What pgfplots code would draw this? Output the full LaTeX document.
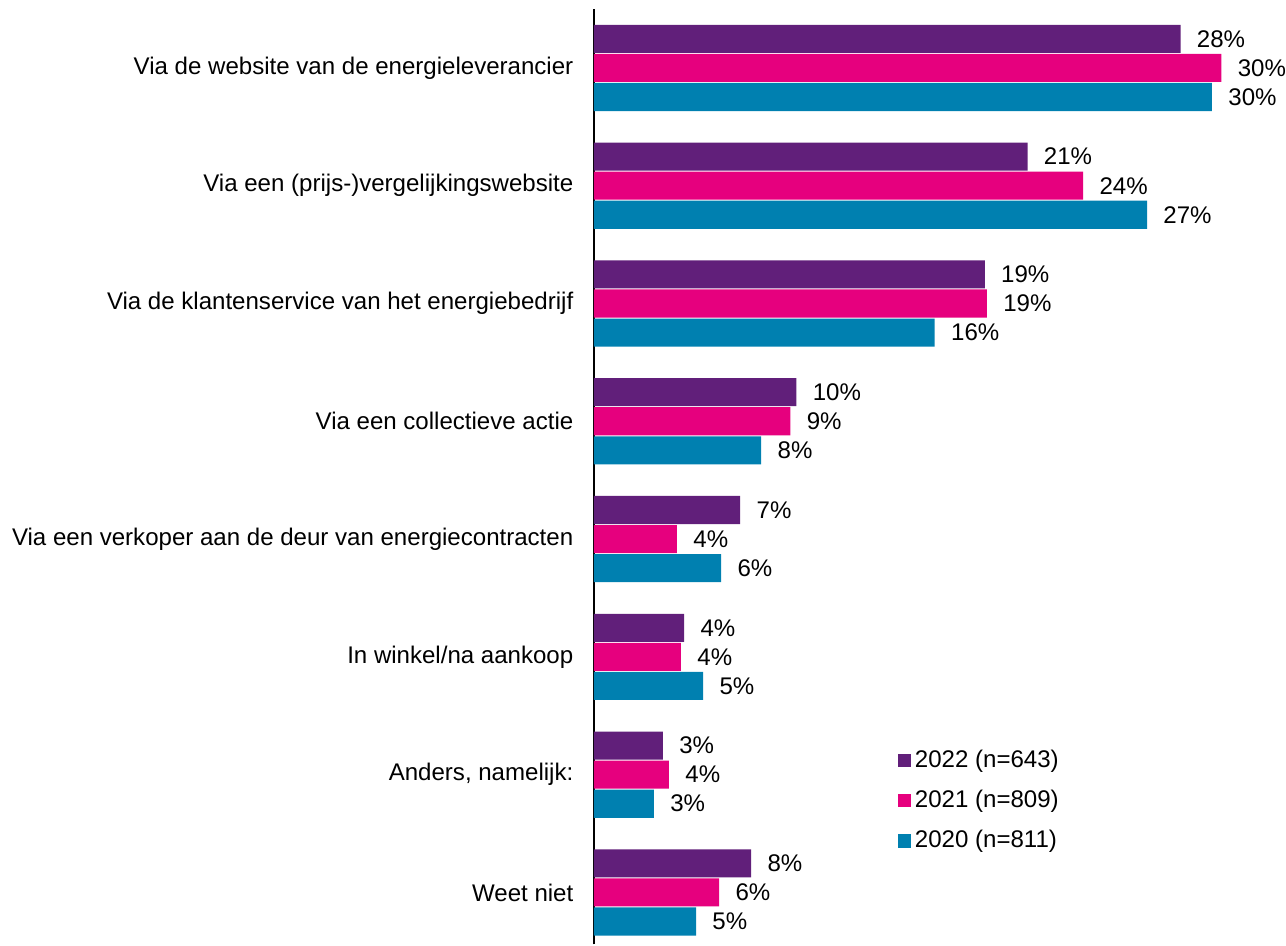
\documentclass[border=0pt]{standalone}
\usepackage{fontspec}
\setmainfont{Liberation Sans}
\usepackage{pgfplots}
\pgfplotsset{compat=1.18}
\definecolor{cpurple}{HTML}{611F7A}
\definecolor{cpink}{HTML}{E6007E}
\definecolor{cblue}{HTML}{0080B0}
\begin{document}
\fontsize{12bp}{14bp}\selectfont
\begin{tikzpicture}
\begin{axis}[
  xbar,
  width=334.5bp, height=466.5bp,
  scale only axis,
  xmin=0, xmax=32,
  ymin=-0.44, ymax=7.5,
  axis x line=none,
  axis y line=left,
  axis line style={-, line width=1pt, black},
  /pgf/number format/assume math mode=true,
  ytick={0,1,2,3,4,5,6,7},
  yticklabels={Weet niet, {Anders, namelijk:}, In winkel/na aankoop, Via een verkoper aan de deur van energiecontracten, Via een collectieve actie\ , Via de klantenservice van het energiebedrijf, Via een (prijs-)vergelijkingswebsite, Via de website van de energieleverancier},
  major tick length=0pt,
  yticklabel style={anchor=east, inner sep=0pt, xshift=-10bp, font=\fontsize{12bp}{14bp}\selectfont},
  bar width=14bp,
  point meta=explicit,
  nodes near coords={\pgfmathprintnumber{\pgfplotspointmeta}\%},
  nodes near coords style={anchor=west, inner sep=0pt, xshift=8bp, font=\fontsize{12bp}{14bp}\selectfont, text=black},
  legend style={at={(0.453,0.212)}, anchor=north west, draw=none, fill=none, inner sep=0pt,
    row sep=5.5bp, font=\fontsize{12bp}{14bp}\selectfont, legend cell align=left},
  legend image code/.code={\fill[#1] (0bp,-3.25bp) rectangle (6.5bp,3.25bp);},
]
\addplot[fill=cpurple, draw=none, bar shift=14.5bp] coordinates {
  (28.0,7) [28] (20.7,6) [21] (18.66,5) [19] (9.67,4) [10] (6.99,3) [7] (4.31,2) [4] (3.30,1) [3] (7.51,0) [8]};
\addlegendentry{2022 (n=643)}
\addplot[fill=cpink, draw=none, bar shift=0bp] coordinates {
  (29.95,7) [30] (23.35,6) [24] (18.76,5) [19] (9.38,4) [9] (3.97,3) [4] (4.16,2) [4] (3.59,1) [4] (5.98,0) [6]};
\addlegendentry{2021 (n=809)}
\addplot[fill=cblue, draw=none, bar shift=-14.5bp] coordinates {
  (29.5,7) [30] (26.4,6) [27] (16.27,5) [16] (7.99,4) [8] (6.08,3) [6] (5.22,2) [5] (2.87,1) [3] (4.88,0) [5]};
\addlegendentry{2020 (n=811)}
\end{axis}
\path ([xshift=-6bp,yshift=4bp]current bounding box.north west);
\end{tikzpicture}
\end{document}
